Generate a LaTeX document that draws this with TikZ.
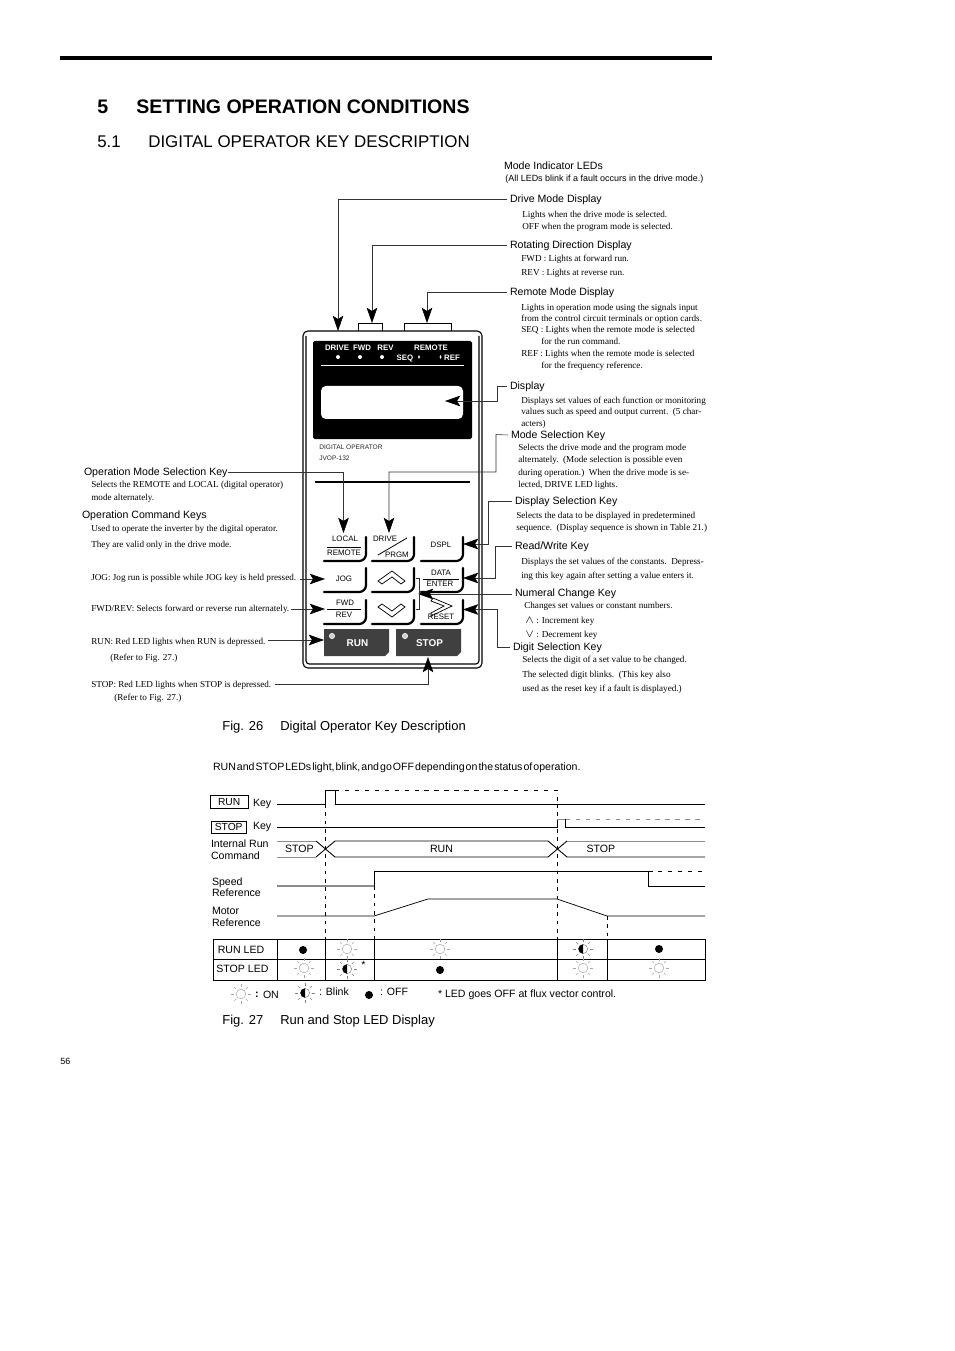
\documentclass[tikz,border=0pt]{standalone}
\usepackage{fontspec}
\setmainfont{Liberation Serif}
\setsansfont{Liberation Sans}
\usetikzlibrary{arrows.meta,calc}

\begin{document}
\begin{tikzpicture}[
    x=0.6237pt,y=-0.6237pt,
    title/.style={anchor=west,inner sep=0pt,text height=8.8pt,text depth=0pt,font=\sffamily\bfseries\fontsize{12.2}{13}\selectfont},
    section/.style={anchor=west,inner sep=0pt,text height=7.6pt,text depth=0pt,font=\sffamily\fontsize{10.55}{12}\selectfont},
    lbl/.style={anchor=west,inner sep=0pt,outer xsep=1.87pt,text height=6.2pt,text depth=1.4pt,font=\sffamily\fontsize{6.6}{7}\selectfont},
    small/.style={anchor=west,inner sep=0pt,text height=5.4pt,text depth=1.2pt,font=\sffamily\fontsize{5.6}{6}\selectfont},
    desc/.style={anchor=west,inner sep=0pt,text height=5.2pt,text depth=1.2pt,font=\fontsize{5.7}{6}\selectfont},
    figcap/.style={anchor=west,inner sep=0pt,text height=6.6pt,text depth=1.5pt,font=\sffamily\fontsize{8.1}{9}\selectfont},
    keytxt/.style={inner sep=0pt,text height=3.6pt,text depth=0pt,font=\sffamily\fontsize{4.9}{5}\selectfont},
    paneltxt/.style={inner sep=0pt,text height=3.6pt,text depth=0pt,text=white,font=\sffamily\bfseries\fontsize{4.9}{5}\selectfont},
    btntxt/.style={inner sep=0pt,text=white,font=\sffamily\bfseries\fontsize{6.2}{7}\selectfont},
    opnote/.style={anchor=west,inner sep=0pt,text height=3.6pt,text depth=0pt,text=black!85,font=\sffamily\fontsize{4.1}{5}\selectfont},
    tabtxt/.style={anchor=west,inner sep=0pt,text height=5pt,text depth=0pt,font=\sffamily\fontsize{6.6}{7}\selectfont},
    lead/.style={black!80,line width=0.35pt},
    pointer/.style={lead,-{Stealth[length=9.5pt,width=6.6pt,inset=2pt,black]}},
    wave/.style={line width=0.55pt},
    greywave/.style={line width=0.55pt,black!45},
    guide/.style={line width=0.5pt,dash pattern=on 2.2pt off 3pt},
    longguide/.style={line width=0.5pt,dash pattern=on 2.8pt off 3.4pt},
    keyedge/.pic={
        \draw[line width=1.35pt,line cap=round,rounded corners=1.6pt] (0,0) -- (38,0) -- (42,-4) -- (42,-24);
    },
    ledon/.pic={
        \draw[black!35,line width=0.3pt] (0,0) circle (4.8);
        \foreach \ang in {0,45,...,315}
            \draw[black!35,line width=0.3pt] (\ang:6.8) -- (\ang:9.6);
    },
    ledblink/.pic={
        \draw[black!50,line width=0.3pt] (0,0) circle (4.6);
        \fill (0,-4.6) arc (-90:-270:4.6) -- cycle;
        \foreach \ang in {0,45,...,315}
            \draw[black!50,line width=0.3pt] (\ang:6.8) -- (\ang:9.6);
    },
    ledoff/.pic={
        \fill (0,0) circle (4);
    },
]

\useasboundingbox (0,0) rectangle (954,1351);

%----------------------------------
% Page heading
%----------------------------------

\fill (60,56) rectangle (712,60);

\node[title] (chapNo) at (97,106.5) {5};
\node[title] (chapTitle) at (136,106.5) {SETTING OPERATION CONDITIONS};
\node[section] (secNo) at (97,141) {5.1};
\node[section] (secTitle) at (148,141) {DIGITAL OPERATOR KEY DESCRIPTION};

%----------------------------------
% Digital operator body
%----------------------------------

\draw[line width=0.7pt,rounded corners=3pt] (303,668) -- (303,331) -- (482,331) -- (482,668) -- cycle;
\draw[line width=0.7pt,rounded corners=2pt] (306,336) -- (306,664) -- (479,664) -- (479,336);

\draw[line width=0.6pt] (358.5,331) -- (358.5,323) -- (382.5,323) -- (382.5,331);
\draw[line width=0.6pt] (404.5,331) -- (404.5,323) -- (451.5,323) -- (451.5,331);

\fill[rounded corners=1pt] (313,341) rectangle (472,439);
\fill[white,rounded corners=3pt] (321,386) rectangle (463,419);
\draw[white,line width=0.5pt] (321,365.5) -- (464,365.5);

\node[paneltxt] (pDrive) at (337,347.5) {DRIVE};
\node[paneltxt] (pFwd) at (362,347.5) {FWD};
\node[paneltxt] (pRev) at (385.5,347.5) {REV};
\node[paneltxt] (pRemote) at (431,347.5) {REMOTE};
\node[paneltxt] (pSeq) at (405,358) {SEQ};
\node[paneltxt] (pRef) at (452,358) {REF};

\fill[white] (338,357) circle (2);
\fill[white] (360,357) circle (2);
\fill[white] (382,357) circle (2);
\fill[white] (419,357) ellipse (1 and 1.8);
\fill[white] (440.5,357) ellipse (1 and 1.8);

\node[opnote] (opName) at (319,447) {DIGITAL OPERATOR};
\node[opnote] (opModel) at (319,458) {JVOP-132};

\draw[line width=1.1pt] (315,482) -- (470,482);

%----------------------------------
% Keys
%----------------------------------

\pic at (324,561) {keyedge};
\pic at (372,561) {keyedge};
\pic at (421,561) {keyedge};
\pic at (324,592) {keyedge};
\pic at (372,592) {keyedge};
\pic at (421,592) {keyedge};
\pic at (324,624) {keyedge};
\pic at (372,624) {keyedge};
\pic at (421,624) {keyedge};

\node[keytxt] (localKey) at (345,539) {LOCAL};
\draw[line width=0.5pt] (327,547) -- (361,547);
\node[keytxt] (remoteKey) at (344,553) {REMOTE};

\node[keytxt] (driveKey) at (385,539) {DRIVE};
\draw[line width=0.5pt] (378,555) -- (407,538);
\node[keytxt] (prgmKey) at (397,554.5) {PRGM};

\node[keytxt] (dsplKey) at (441,544.5) {DSPL};
\node[keytxt] (jogKey) at (344,579) {JOG};

\node[keytxt] (dataKey) at (441,573) {DATA};
\draw[line width=0.5pt] (423,579) -- (459,579);
\node[keytxt] (enterKey) at (440,584) {ENTER};

\node[keytxt] (fwdKey) at (345,603) {FWD};
\draw[line width=0.5pt] (327,609) -- (361,609);
\node[keytxt] (revKey) at (344,615) {REV};

\draw[line width=0.45pt,line join=miter] (378,581) -- (392,571) -- (405,581) -- (401,584) -- (392,577) -- (382,584) -- cycle;
\draw[line width=0.45pt,line join=miter] (378,607) -- (382,604) -- (392,611) -- (401,604) -- (405,607) -- (392,617) -- cycle;
\draw[line width=0.45pt,line join=miter] (433,598) -- (452,606) -- (431,616) -- (431,613) -- (444,606) -- (431,601) -- cycle;
\node[keytxt] (resetKey) at (441,617) {RESET};

\fill[black!75] (324,629) -- (389,629) -- (389,652) -- (385,656) -- (324,656) -- cycle;
\fill[black!75] (396,629) -- (461,629) -- (461,652) -- (457,656) -- (396,656) -- cycle;
\filldraw[fill=black!20,draw=white,line width=0.4pt] (332,636) circle (2.6);
\filldraw[fill=black!20,draw=white,line width=0.4pt] (405,636) circle (2.6);
\node[btntxt] (runBtn) at (357.5,643) {RUN};
\node[btntxt] (stopBtn) at (429.5,643) {STOP};

%----------------------------------
% Notes on the right
%----------------------------------

\node[lbl,outer xsep=0pt] (modeLbl) at (504,165.5) {Mode Indicator LEDs};
\node[small] (modeNote) at (505,178) {(All LEDs blink if a fault occurs in the drive mode.)};

\node[lbl] (driveLbl) at (507,199) {Drive Mode Display};
\node[desc] (driveA) at (522,214) {Lights when the drive mode is selected.};
\node[desc] (driveB) at (522,226) {OFF when the program mode is selected.};

\node[lbl] (rotLbl) at (507,245) {Rotating Direction Display};
\node[desc] (rotA) at (521,258) {FWD : Lights at forward run.};
\node[desc] (rotB) at (521,272) {REV : Lights at reverse run.};

\node[lbl] (remLbl) at (507,292) {Remote Mode Display};
\node[desc] (remA) at (521,307) {Lights in operation mode using the signals input};
\node[desc] (remB) at (521,318) {from the control circuit terminals or option cards.};
\node[desc] (remC) at (521,329) {SEQ : Lights when the remote mode is selected};
\node[desc] (remD) at (541,341) {for the run command.};
\node[desc] (remE) at (521,353) {REF : Lights when the remote mode is selected};
\node[desc] (remF) at (541,365) {for the frequency reference.};

\node[lbl] (dispLbl) at (507,386) {Display};
\node[desc] (dispA) at (521,400) {Displays set values of each function or monitoring};
\node[desc] (dispB) at (521,411) {values such as speed and output current.~~(5 char-};
\node[desc] (dispC) at (521,423) {acters)};

\node[lbl] (selLbl) at (508,435) {Mode Selection Key};
\node[desc] (selA) at (518,447) {Selects the drive mode and the program mode};
\node[desc] (selB) at (518,459) {alternately.~~(Mode selection is possible even};
\node[desc] (selC) at (518,472) {during operation.)~~When the drive mode is se-};
\node[desc] (selD) at (518,484) {lected, DRIVE LED lights.};

\node[lbl] (dsplLbl) at (512,501) {Display Selection Key};
\node[desc] (dsplA) at (516,515) {Selects the data to be displayed in predetermined};
\node[desc] (dsplB) at (516,527) {sequence.~~(Display sequence is shown in Table 21.)};

\node[lbl] (rwLbl) at (512,546) {Read/Write Key};
\node[desc] (rwA) at (521,561) {Displays the set values of the constants.~~Depress-};
\node[desc] (rwB) at (521,575) {ing this key again after setting a value enters it.};

\node[lbl] (numLbl) at (512,593) {Numeral Change Key};
\node[desc] (numA) at (524,605) {Changes set values or constant numbers.};
\node[desc] (numB) at (525,620) {{\fontsize{7.5}{8}\selectfont$\wedge$} : Increment key};
\node[desc] (numC) at (525,634) {{\fontsize{7.5}{8}\selectfont$\vee$} : Decrement key};

\node[lbl] (digLbl) at (510,647) {Digit Selection Key};
\node[desc] (digA) at (522,659) {Selects the digit of a set value to be changed.};
\node[desc] (digB) at (522,674) {The selected digit blinks.~~(This key also};
\node[desc] (digC) at (522,688) {used as the reset key if a fault is displayed.)};

%----------------------------------
% Notes on the left
%----------------------------------

\node[lbl,outer xsep=0pt] (omsLbl) at (84,472) {Operation Mode Selection Key};
\node[desc] (omsA) at (91,484) {Selects the REMOTE and LOCAL (digital operator)};
\node[desc] (omsB) at (91,497) {mode alternately.};

\node[lbl,outer xsep=0pt] (ockLbl) at (82,515) {Operation Command Keys};
\node[desc] (ockA) at (91,528) {Used to operate the inverter by the digital operator.};
\node[desc] (ockB) at (91,544) {They are valid only in the drive mode.};

\node[desc] (jogNote) at (91,577) {JOG: Jog run is possible while JOG key is held pressed.};
\node[desc] (fwdNote) at (91,608) {FWD/REV: Selects forward or reverse run alternately.};
\node[desc] (runNote) at (91,641) {RUN: Red LED lights when RUN is depressed.};
\node[desc] (runRef) at (110,657) {(Refer to Fig. 27.)};
\node[desc] (stopNote) at (91,684) {STOP: Red LED lights when STOP is depressed.};
\node[desc] (stopRef) at (114,697) {(Refer to Fig. 27.)};

%----------------------------------
% Pointers
%----------------------------------

\coordinate (driveLed) at (338,331);
\coordinate (rotTab) at (372,323);
\coordinate (remTab) at (427,323);
\coordinate (dispWin) at (445,401);
\coordinate (dispBend) at (497,386);
\coordinate (selBend) at (496,434.5);
\coordinate (selRun) at (389,472);
\coordinate (selTip) at (389,533);
\coordinate (omsTip) at (343.5,533);
\coordinate (dsplTip) at (463,544);
\coordinate (dsplBend) at (488.5,501);
\coordinate (rwBend) at (495.5,546);
\coordinate (rwTip) at (463,578);
\coordinate (numTip) at (418,594);
\coordinate (digBend) at (497,647);
\coordinate (digTip) at (463,609.5);
\coordinate (jogFrom) at (300,579);
\coordinate (jogTip) at (325,579);
\coordinate (fwdFrom) at (291,609);
\coordinate (fwdTip) at (325,609);
\coordinate (runFrom) at (268,640);
\coordinate (runTip) at (324,640);
\coordinate (stopFrom) at (275,684);
\coordinate (stopTip) at (428,657);

\draw[pointer] (driveLbl.west) -| (driveLed);
\draw[pointer] (rotLbl.west) -| (rotTab);
\draw[pointer] (remLbl.west) -| (remTab);
\draw[pointer] (dispLbl.west) -- (dispBend) |- (dispWin);
\draw[pointer] (selLbl.west) -- (selBend) |- (selRun) -- (selTip);
\draw[pointer] (omsLbl.east) -| (omsTip);
\draw[pointer] (dsplLbl.west) -- (dsplBend) |- (dsplTip);
\draw[pointer] (rwLbl.west) -- (rwBend) |- (rwTip);
\draw[pointer] (numLbl.west |- numTip) -- (numTip);
\draw[pointer] (digLbl.west) -- (digBend) |- (digTip);
\draw[pointer] (jogFrom) -- (jogTip);
\draw[pointer] (fwdFrom) -- (fwdTip);
\draw[pointer] (runFrom) -- (runTip);
\draw[pointer] (stopFrom) -| (stopTip);

\draw[lead] (416,578) -- (419,578) -- (419,609) -- (416,609);

\node[figcap] (fig26No) at (222,726) {Fig. 26};
\node[figcap] (fig26Txt) at (280,726) {Digital Operator Key Description};

%----------------------------------
% Timing chart
%----------------------------------

\node[lbl,outer xsep=0pt] (chartNote) at (213,767) {\spaceskip=0.1em\relax RUN and STOP LEDs light, blink, and go OFF depending on the status of operation.};

\node[draw,line width=0.5pt,minimum width=37.5*0.6237pt,minimum height=12.5*0.6237pt,inner sep=0pt,font=\sffamily\fontsize{6.4}{7}\selectfont] (runBox) at (229.2,801.7) {RUN};
\node[lbl,outer xsep=0pt] (runKeyLbl) at (253,803) {Key};
\node[draw,line width=0.5pt,minimum width=35.5*0.6237pt,minimum height=11.5*0.6237pt,inner sep=0pt,font=\sffamily\fontsize{6.4}{7}\selectfont] (stopBox) at (228.7,827.2) {STOP};
\node[lbl,outer xsep=0pt] (stopKeyLbl) at (253,826) {Key};

\node[lbl,outer xsep=0pt] (irunA) at (211,843.5) {Internal Run};
\node[lbl,outer xsep=0pt] (irunB) at (211,855.5) {Command};
\node[lbl,outer xsep=0pt] (spdA) at (212,882) {Speed};
\node[lbl,outer xsep=0pt] (spdB) at (212,893) {Reference};
\node[lbl,outer xsep=0pt] (motA) at (212,911) {Motor};
\node[lbl,outer xsep=0pt] (motB) at (212,923) {Reference};

\node[lbl,outer xsep=0pt] (stateA) at (285,849) {STOP};
\node[lbl,outer xsep=0pt] (stateB) at (430,849) {RUN};
\node[lbl,outer xsep=0pt] (stateC) at (586.5,849) {STOP};

% key traces
\draw[wave] (277,804) -- (325,804) -- (325,790) -- (335,790) -- (335,804) -- (705,804);
\draw[longguide] (335,790) -- (557,790) -- (557,804);
\draw[wave] (277,827) -- (557,827) -- (557,819);
\draw[greywave] (557,819) -- (565.7,819);
\draw[wave] (565.7,819) -- (565.7,827) -- (705,827);
\draw[longguide,black!45] (566,819) -- (705,819);

% internal run command
\draw[greywave] (277,841) -- (316,841);
\draw[greywave] (277,857) -- (316,857);
\draw[wave] (316,841) -- (335,857) -- (548,857) -- (567,841);
\draw[wave] (316,857) -- (335,841) -- (548,841) -- (567,857) -- (705,857);
\draw[greywave] (567,841) -- (705,841);

% speed and motor reference
\draw[greywave,line width=0.7pt] (277,886) -- (374,886);
\draw[wave] (374,886) -- (374,871) -- (648,871) -- (648,886) -- (705,886);
\draw[longguide] (648,871) -- (705,871);
\draw[wave,line width=0.45pt] (277,916) -- (374,916) -- (428,899) -- (557,899) -- (607,916) -- (705,916);

% guide lines
\draw[guide] (325,804) -- (325,939);
\draw[guide] (374,886) -- (374,939);
\draw[guide] (557,804) -- (557,939);
\draw[guide] (607,916) -- (607,939);

%----------------------------------
% LED table
%----------------------------------

\draw[line width=0.55pt] (213,939) rectangle (705,980);
\draw[line width=0.55pt] (213,959) -- (705,959);
\draw[line width=0.55pt] (277,939) -- (277,980);
\draw[line width=0.55pt] (325,939) -- (325,980);
\draw[line width=0.55pt] (374,939) -- (374,980);
\draw[line width=0.55pt] (557,939) -- (557,980);
\draw[line width=0.55pt] (607,939) -- (607,980);

\node[tabtxt] (runLed) at (217.5,949.5) {RUN LED};
\node[tabtxt] (stopLed) at (216,968) {STOP LED};

\pic at (303,950) {ledoff};
\pic at (347,949) {ledon};
\pic at (440,949) {ledon};
\pic at (583,949) {ledblink};
\pic at (659,949) {ledoff};

\pic at (304,968) {ledon};
\pic at (347,969) {ledblink};
\pic at (440,970) {ledoff};
\pic at (583,968) {ledon};
\pic at (659,968) {ledon};

\node[tabtxt] (starMark) at (361,964) {*};

%----------------------------------
% Legend
%----------------------------------

\pic at (241,994) {ledon};
\node[lbl,outer xsep=0pt] (onColon) at (255,993.5) {\textbf{:}};
\node[lbl,outer xsep=0pt] (onTxt) at (263,994.5) {ON};
\pic at (305,993) {ledblink};
\node[lbl,outer xsep=0pt] (blinkTxt) at (319,992) {: Blink};
\pic at (369,995) {ledoff};
\node[lbl,outer xsep=0pt] (offTxt) at (380,992) {: OFF};
\node[lbl,outer xsep=0pt] (ledNote) at (438,994) {* LED goes OFF at flux vector control.};

\node[figcap] (fig27No) at (222,1020) {Fig. 27};
\node[figcap] (fig27Txt) at (280,1020) {Run and Stop LED Display};

\node[small] (pageNo) at (60,1061) {56};

\end{tikzpicture}
\end{document}
